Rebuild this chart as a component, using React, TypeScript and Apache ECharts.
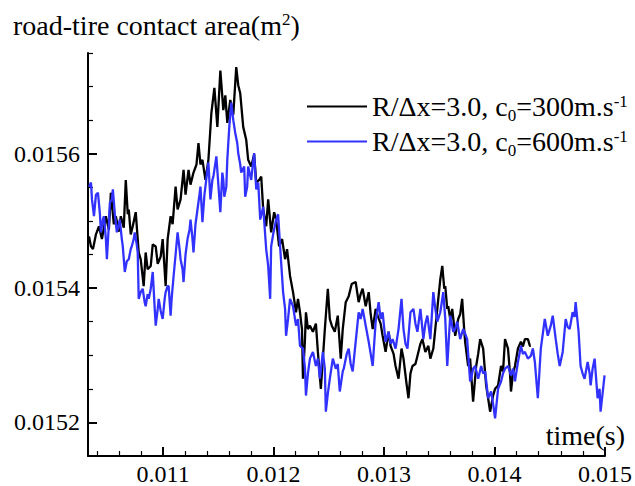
import React, { useEffect, useRef } from "react";
import * as echarts from "echarts";

const FONT = "'Liberation Serif', 'Times New Roman', serif";

const titleText = "road-tire contact area(m";
const xAxisName = "time(s)";
const legendNames = ["R/Δx=3.0, c0=300m.s-1", "R/Δx=3.0, c0=600m.s-1"];
const seriesColors = ["#000000", "#3232ff"];

const xMajor = [0.011, 0.012, 0.013, 0.014, 0.015];
const xMinor = [0.0104, 0.0106, 0.0108, 0.0112, 0.0114, 0.0116, 0.0118, 0.0122, 0.0124, 0.0126, 0.0128, 0.0132, 0.0134, 0.0136, 0.0138, 0.0142, 0.0144, 0.0146, 0.0148];
const yMajor = [0.0152, 0.0154, 0.0156];
const yMinor = [0.01525, 0.0153, 0.01535, 0.01545, 0.0155, 0.01555, 0.01565, 0.0157, 0.01575];

const blackT = [
  0.010329, 0.010347, 0.010365, 0.010392, 0.010419, 0.010446, 0.010482, 0.010509, 0.010527, 0.010554,
  0.010572, 0.010599, 0.010617, 0.010644, 0.010662, 0.01068, 0.010689, 0.010707, 0.010725, 0.010752,
  0.010779, 0.010797, 0.010824, 0.010842, 0.01086, 0.010888, 0.010906, 0.010933, 0.010951, 0.010978,
  0.010996, 0.011023, 0.011041, 0.011068, 0.011086, 0.011113, 0.011131, 0.011158, 0.011185, 0.011203,
  0.01123, 0.011248, 0.011275, 0.011302, 0.01132, 0.011338, 0.011356, 0.011383, 0.01141, 0.011437,
  0.011464, 0.011491, 0.011518, 0.011545, 0.011563, 0.011581, 0.011608, 0.011635, 0.011662, 0.01168,
  0.011698, 0.011725, 0.011752, 0.01177, 0.011797, 0.011824, 0.011843, 0.01187, 0.011888, 0.011906,
  0.011933, 0.011951, 0.011978, 0.012005, 0.012023, 0.01205, 0.012077, 0.012104, 0.012122, 0.012149,
  0.012176, 0.012203, 0.012221, 0.012239, 0.012257, 0.012266, 0.012284, 0.012293, 0.012311, 0.012329,
  0.012356, 0.012383, 0.012401, 0.012428, 0.012446, 0.012464, 0.012491, 0.012509, 0.012527, 0.012554,
  0.012581, 0.012608, 0.012626, 0.012653, 0.01268, 0.012707, 0.012743, 0.01277, 0.012788, 0.012806,
  0.012834, 0.012861, 0.012879, 0.012897, 0.012924, 0.012942, 0.012969, 0.012987, 0.013014, 0.013041,
  0.013059, 0.013086, 0.013104, 0.013131, 0.013158, 0.013176, 0.013203, 0.013221, 0.013239, 0.013257,
  0.013284, 0.013302, 0.013329, 0.013347, 0.013374, 0.013401, 0.013419, 0.013446, 0.013473, 0.013491,
  0.013509, 0.013527, 0.013545, 0.013554, 0.013572, 0.013581, 0.013599, 0.013617, 0.013644, 0.013671,
  0.013689, 0.013707, 0.013725, 0.013734, 0.013761, 0.013779, 0.013806, 0.013834, 0.013852, 0.01387,
  0.013897, 0.013924, 0.013942, 0.01396, 0.013987, 0.014005, 0.014032, 0.014059, 0.014077, 0.014095,
  0.014122, 0.01414, 0.014149, 0.014167, 0.014185, 0.014212, 0.014239, 0.014257, 0.014275, 0.014302,
  0.01432, 0.014329,
];
const blackV = [
  0.015477, 0.015462, 0.015458, 0.01548, 0.015492, 0.015473, 0.015507, 0.015487, 0.015542, 0.015495,
  0.015507, 0.015484, 0.015507, 0.01549, 0.015561, 0.01551, 0.015517, 0.01548, 0.015492, 0.015513,
  0.015453, 0.015443, 0.015403, 0.015453, 0.015428, 0.015433, 0.015465, 0.015462, 0.015436, 0.015447,
  0.015473, 0.015403, 0.015473, 0.015507, 0.015495, 0.015551, 0.015517, 0.015532, 0.015576, 0.015539,
  0.015576, 0.015554, 0.015572, 0.015584, 0.015616, 0.015584, 0.015591, 0.015561, 0.015591, 0.015661,
  0.015698, 0.01564, 0.015724, 0.015665, 0.015687, 0.015646, 0.01568, 0.015658, 0.015729, 0.015702,
  0.01569, 0.01564, 0.015621, 0.015591, 0.015581, 0.015599, 0.015557, 0.015561, 0.015566, 0.015517,
  0.015492, 0.015532, 0.015483, 0.015513, 0.015502, 0.015462, 0.015473, 0.015443, 0.015458, 0.015418,
  0.015394, 0.015364, 0.015384, 0.015364, 0.015339, 0.015265, 0.015324, 0.015364, 0.015339, 0.015344,
  0.015335, 0.015347, 0.015305, 0.01525, 0.015295, 0.015339, 0.015399, 0.015354, 0.015344, 0.015335,
  0.015359, 0.015295, 0.015339, 0.015379, 0.015388, 0.015406, 0.015409, 0.015379, 0.015391, 0.015399,
  0.015373, 0.015394, 0.015361, 0.015339, 0.015369, 0.015359, 0.015347, 0.015329, 0.015305, 0.015335,
  0.015314, 0.015302, 0.015284, 0.015265, 0.01531, 0.015295, 0.015258, 0.015236, 0.015273, 0.015284,
  0.015287, 0.015299, 0.015317, 0.015324, 0.015305, 0.015314, 0.015295, 0.01531, 0.015354, 0.015384,
  0.015413, 0.015433, 0.015399, 0.015403, 0.015369, 0.015373, 0.015354, 0.015369, 0.015329, 0.015354,
  0.015361, 0.015384, 0.015339, 0.01532, 0.015284, 0.015295, 0.015231, 0.015284, 0.015302, 0.015324,
  0.01531, 0.015255, 0.015236, 0.015216, 0.01524, 0.01525, 0.015255, 0.015284, 0.015276, 0.015324,
  0.01531, 0.015273, 0.015246, 0.015273, 0.015284, 0.01531, 0.01532, 0.015313, 0.015324, 0.015324,
  0.015314, 0.015314,
];

const blueT = [
  0.010329, 0.010347, 0.010356, 0.010374, 0.010392, 0.01041, 0.010428, 0.010437, 0.010455, 0.010464,
  0.010482, 0.010491, 0.010509, 0.010518, 0.010536, 0.010545, 0.010563, 0.010581, 0.010599, 0.010608,
  0.010626, 0.010635, 0.010653, 0.010671, 0.010689, 0.010707, 0.010716, 0.010734, 0.010743, 0.010761,
  0.01077, 0.010779, 0.010797, 0.010815, 0.010833, 0.010842, 0.01086, 0.01087, 0.010888, 0.010906,
  0.010924, 0.010933, 0.010951, 0.01096, 0.010978, 0.010996, 0.011014, 0.011023, 0.011041, 0.01105,
  0.011068, 0.011077, 0.011095, 0.011113, 0.011131, 0.011149, 0.011158, 0.011176, 0.011185, 0.011203,
  0.011221, 0.011239, 0.011248, 0.011266, 0.011275, 0.011293, 0.011311, 0.011329, 0.011338, 0.011356,
  0.011374, 0.011383, 0.011401, 0.01141, 0.011428, 0.011446, 0.011455, 0.011482, 0.0115, 0.011518,
  0.011536, 0.011545, 0.011554, 0.011572, 0.011581, 0.011599, 0.011617, 0.011635, 0.011653, 0.011671,
  0.01168, 0.011698, 0.011707, 0.011734, 0.011743, 0.011761, 0.01177, 0.011797, 0.011824, 0.011843,
  0.011861, 0.011879, 0.011906, 0.011933, 0.011951, 0.011969, 0.011978, 0.011996, 0.012023, 0.012041,
  0.012059, 0.012086, 0.012104, 0.012113, 0.012131, 0.012149, 0.012176, 0.012203, 0.012221, 0.012239,
  0.012266, 0.012284, 0.012293, 0.012311, 0.012329, 0.012356, 0.012383, 0.012401, 0.012419, 0.012446,
  0.012464, 0.012473, 0.012491, 0.012509, 0.012536, 0.012563, 0.012581, 0.012599, 0.012626, 0.012635,
  0.012662, 0.01268, 0.012698, 0.012716, 0.012743, 0.01277, 0.012788, 0.012806, 0.012834, 0.012861,
  0.012879, 0.012897, 0.012924, 0.012951, 0.012969, 0.012987, 0.013014, 0.013041, 0.013059, 0.013077,
  0.013104, 0.013131, 0.013158, 0.013176, 0.013194, 0.013212, 0.013239, 0.013266, 0.013284, 0.013302,
  0.013329, 0.013356, 0.013374, 0.013392, 0.013419, 0.013446, 0.013464, 0.013482, 0.013509, 0.013536,
  0.013554, 0.013572, 0.013599, 0.013626, 0.013644, 0.013662, 0.013689, 0.013716, 0.013734, 0.013752,
  0.013779, 0.013788, 0.013806, 0.013825, 0.013852, 0.013879, 0.013897, 0.013915, 0.013942, 0.013969,
  0.013987, 0.014005, 0.014032, 0.014059, 0.014077, 0.014095, 0.014122, 0.014149, 0.014167, 0.014185,
  0.014212, 0.014239, 0.014257, 0.014275, 0.014302, 0.014329, 0.014347, 0.014365, 0.014392, 0.014419,
  0.014437, 0.014455, 0.014482, 0.014509, 0.014527, 0.014554, 0.014572, 0.01459, 0.014617, 0.014644,
  0.014662, 0.01468, 0.014707, 0.014725, 0.014734, 0.014761, 0.014779, 0.014797, 0.014815, 0.014843,
  0.014861, 0.01487, 0.014888, 0.014906, 0.014933, 0.014951, 0.01496, 0.014978, 0.014996,
];
const blueV = [
  0.015551, 0.015557, 0.015532, 0.015507, 0.015539, 0.015542, 0.01551, 0.015483, 0.015502, 0.015507,
  0.015473, 0.015443, 0.015495, 0.015527, 0.015532, 0.015547, 0.01551, 0.015483, 0.015495, 0.015502,
  0.015473, 0.015462, 0.015424, 0.01544, 0.015443, 0.015458, 0.015462, 0.015473, 0.015483, 0.015465,
  0.015453, 0.015384, 0.015394, 0.015399, 0.015379, 0.015373, 0.015391, 0.015384, 0.015399, 0.015424,
  0.015369, 0.015344, 0.015369, 0.015384, 0.015366, 0.015354, 0.015384, 0.015394, 0.015403, 0.015403,
  0.015359, 0.015384, 0.015418, 0.01545, 0.015483, 0.015458, 0.015443, 0.015428, 0.015409, 0.01545,
  0.015473, 0.015487, 0.015502, 0.015473, 0.015453, 0.015495, 0.015517, 0.015539, 0.015551, 0.015498,
  0.015539, 0.015551, 0.015576, 0.015587, 0.015532, 0.015561, 0.015566, 0.015596, 0.015554, 0.015513,
  0.015572, 0.015561, 0.015536, 0.015551, 0.015591, 0.01564, 0.015676, 0.01565, 0.015631, 0.015616,
  0.015601, 0.015584, 0.015572, 0.015581, 0.015536, 0.015551, 0.015581, 0.015561, 0.015601, 0.015547,
  0.015557, 0.015502, 0.015521, 0.015458, 0.015433, 0.015384, 0.015462, 0.01548, 0.015502, 0.01551,
  0.015462, 0.015394, 0.015369, 0.015329, 0.015354, 0.015384, 0.015373, 0.015344, 0.015354, 0.015314,
  0.01531, 0.01528, 0.01524, 0.015273, 0.015295, 0.015305, 0.015284, 0.015295, 0.015265, 0.015305,
  0.01528, 0.015216, 0.015243, 0.015265, 0.015295, 0.01528, 0.015287, 0.015246, 0.015276, 0.01528,
  0.015302, 0.01531, 0.015287, 0.015276, 0.01532, 0.015364, 0.015354, 0.015369, 0.015344, 0.01532,
  0.015302, 0.015284, 0.01535, 0.015379, 0.015354, 0.015364, 0.01532, 0.015335, 0.015317, 0.015324,
  0.01531, 0.015339, 0.015384, 0.015339, 0.015317, 0.01531, 0.015364, 0.015369, 0.015347, 0.015335,
  0.015369, 0.015324, 0.015347, 0.015359, 0.015324, 0.015394, 0.015369, 0.01535, 0.015364, 0.015394,
  0.015354, 0.015284, 0.015359, 0.015335, 0.015339, 0.01535, 0.015324, 0.015339, 0.015332, 0.015324,
  0.015261, 0.015265, 0.01528, 0.015284, 0.015265, 0.015284, 0.015273, 0.015276, 0.015236, 0.015246,
  0.015228, 0.015206, 0.01525, 0.015261, 0.015273, 0.01528, 0.015284, 0.01527, 0.01528, 0.015261,
  0.01529, 0.015314, 0.015302, 0.015305, 0.015295, 0.015299, 0.01531, 0.01529, 0.015236, 0.01531,
  0.015332, 0.015354, 0.015329, 0.015344, 0.015359, 0.015324, 0.015302, 0.015284, 0.015305, 0.015354,
  0.015342, 0.015339, 0.015364, 0.015357, 0.015379, 0.015335, 0.015284, 0.015273, 0.015265, 0.01529,
  0.015273, 0.015255, 0.01528, 0.015295, 0.015236, 0.01525, 0.015216, 0.015243, 0.01527,
];

const zip = (t: number[], v: number[]) => t.map((x, i) => [x, v[i]]);

const legendRich = (name: string) => {
  // "R/Δx=3.0, c0=300m.s-1" -> rich text with subscript 0 and superscript -1
  const m = name.match(/^(.*c)0(=.*m\.s)-1$/);
  if (!m) return name;
  return `{a|${m[1]}}{sub|0}{a|${m[2]}}{sup|-1}`;
};

export default function App() {
  const ref = useRef<HTMLDivElement>(null);
  useEffect(() => {
    if (!ref.current) return;
    const chart = echarts.init(ref.current, null, { renderer: "svg", width: 635, height: 486 });
    const axisFont = { fontFamily: FONT, fontSize: 24, color: "#000" };
    const option: any = {
      animation: false,
      backgroundColor: "#fff",
      textStyle: { fontFamily: FONT },
      title: {
        text: `{a|${titleText}}{s|2}{a|)}`,
        left: 13,
        top: 9,
        padding: 0,
        textStyle: {
          fontWeight: "normal",
          fontFamily: FONT,
          rich: {
            a: { fontFamily: FONT, fontSize: 28, lineHeight: 32, color: "#000", fontWeight: "normal" },
            s: { fontFamily: FONT, fontSize: 17, lineHeight: 17, color: "#000", fontWeight: "normal", padding: [0, 0, 12, 0] },
          },
        },
      },
      legend: {
        orient: "vertical",
        left: 307,
        top: 89,
        padding: 0,
        itemWidth: 60,
        itemHeight: 2,
        itemGap: 0,
        icon: "rect",
        selectedMode: false,
        data: legendNames,
        formatter: (name: string) => legendRich(name),
        textStyle: {
          fontFamily: FONT,
          fontSize: 28,
          lineHeight: 33,
          color: "#000",
          rich: {
            a: { fontFamily: FONT, fontSize: 28, lineHeight: 33, color: "#000" },
            sub: { fontFamily: FONT, fontSize: 17, lineHeight: 15, color: "#000", padding: [18, 0, 0, 0] },
            sup: { fontFamily: FONT, fontSize: 17, lineHeight: 15, color: "#000", padding: [0, 0, 10, 0] },
          },
        },
      },
      grid: { left: 88, right: 27, top: 53, bottom: 28, containLabel: false },
      xAxis: [
        {
          type: "value",
          min: 0.01032,
          max: 0.015,
          position: "bottom",
          axisLine: { show: true, onZero: false, lineStyle: { color: "#000", width: 2 } },
          axisTick: { show: true, inside: true, length: 9, customValues: xMajor, lineStyle: { color: "#000", width: 2 } },
          axisLabel: { ...axisFont, margin: 6, customValues: xMajor, formatter: (v: number) => v.toFixed(3) },
          splitLine: { show: false },
        },
        {
          type: "value",
          min: 0.01032,
          max: 0.015,
          position: "bottom",
          axisLine: { show: false, onZero: false },
          axisTick: { show: true, inside: true, length: 5, customValues: xMinor, lineStyle: { color: "#000", width: 1.2 } },
          axisLabel: { show: false, customValues: xMinor },
          splitLine: { show: false },
        },
      ],
      yAxis: [
        {
          type: "value",
          min: 0.01515,
          max: 0.01575,
          position: "left",
          axisLine: { show: true, onZero: false, lineStyle: { color: "#000", width: 2 } },
          axisTick: { show: true, inside: true, length: 9, customValues: yMajor, lineStyle: { color: "#000", width: 2 } },
          axisLabel: { ...axisFont, margin: 8, customValues: yMajor, formatter: (v: number) => v.toFixed(4) },
          splitLine: { show: false },
        },
        {
          type: "value",
          min: 0.01515,
          max: 0.01575,
          position: "left",
          axisLine: { show: false, onZero: false },
          axisTick: { show: true, inside: true, length: 5, customValues: yMinor, lineStyle: { color: "#000", width: 1.2 } },
          axisLabel: { show: false, customValues: yMinor },
          splitLine: { show: false },
        },
      ],
      graphic: [
        {
          type: "text",
          x: 625,
          y: 435,
          style: { text: xAxisName, font: `28px ${FONT}`, fill: "#000", align: "right", verticalAlign: "middle" },
        },
      ],
      series: [
        {
          name: legendNames[0],
          type: "line",
          data: zip(blackT, blackV),
          showSymbol: false,
          symbol: "none",
          color: seriesColors[0],
          lineStyle: { color: seriesColors[0], width: 2.3 },
          xAxisIndex: 0,
          yAxisIndex: 0,
        },
        {
          name: legendNames[1],
          type: "line",
          data: zip(blueT, blueV),
          showSymbol: false,
          symbol: "none",
          color: seriesColors[1],
          lineStyle: { color: seriesColors[1], width: 2.3 },
          xAxisIndex: 0,
          yAxisIndex: 0,
        },
      ],
    };
    chart.setOption(option);
    return () => chart.dispose();
  }, []);
  return (
    <div
      ref={ref}
      style={{ position: "fixed", left: 0, top: 0, width: 635, height: 486, background: "#fff" }}
    />
  );
}
